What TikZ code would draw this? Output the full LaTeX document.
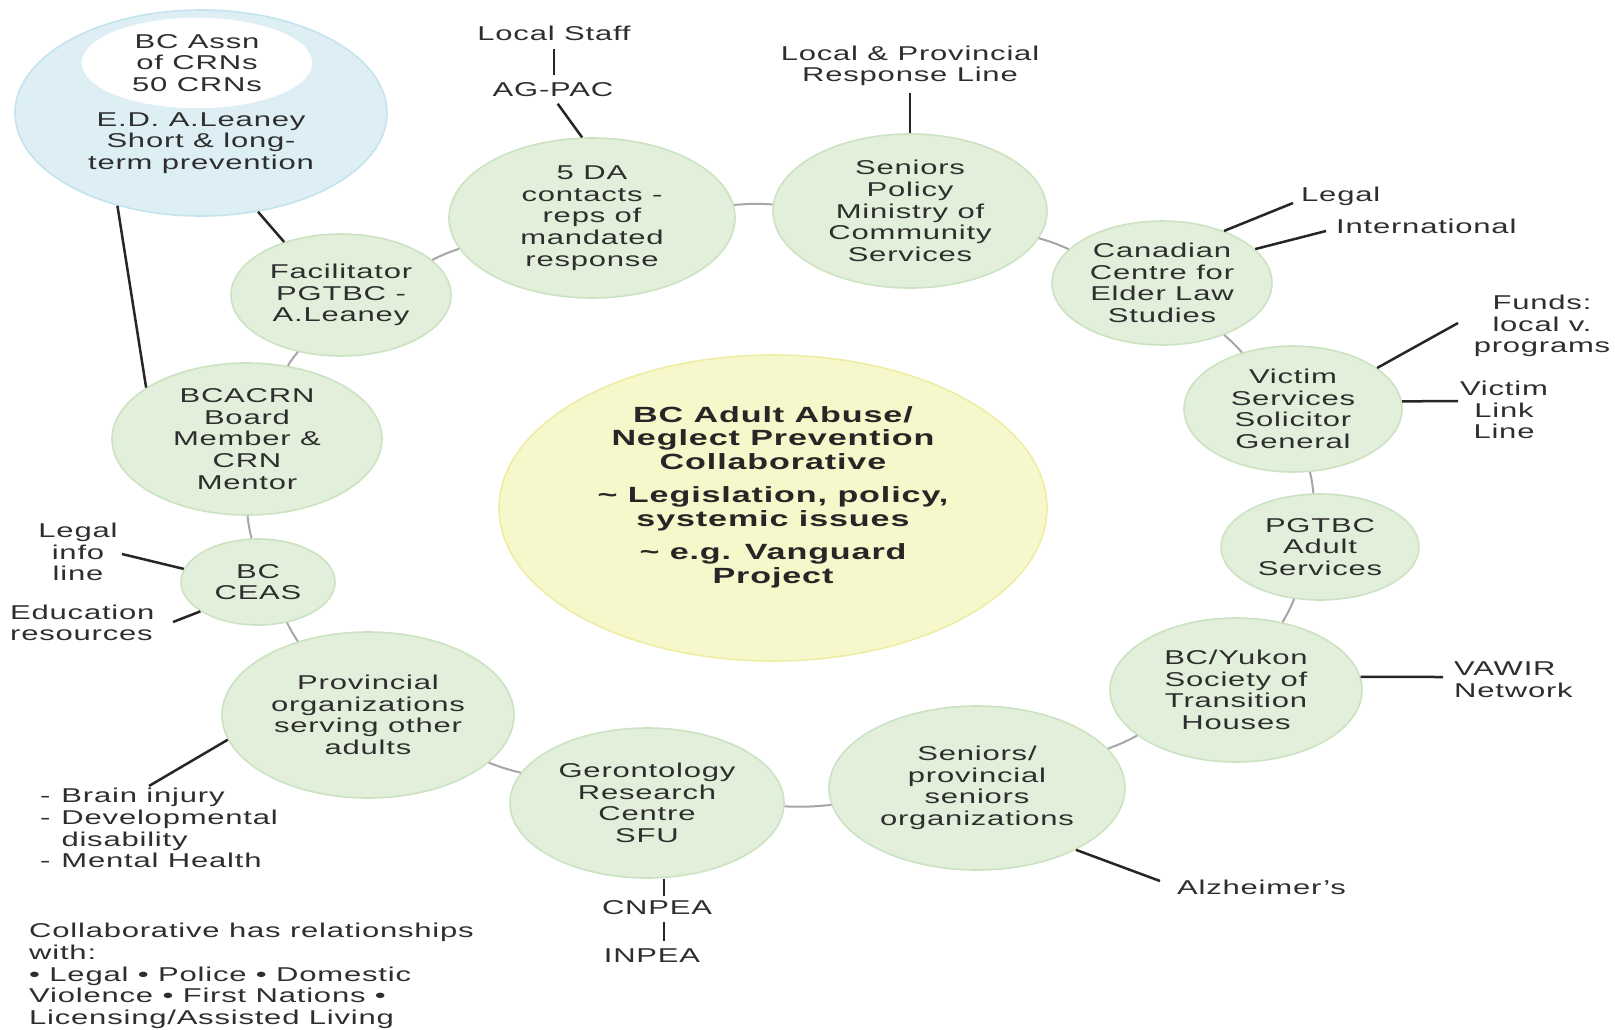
\documentclass[tikz,border=0pt]{standalone}
\usepackage{fontspec}
\setmainfont{Liberation Sans}[FakeStretch=1.55,LetterSpace=4]
\usetikzlibrary{shapes.geometric}
\definecolor{gfill}{HTML}{E2EFDA}
\definecolor{gline}{HTML}{CBE3C2}
\definecolor{bfill}{HTML}{DDEFF5}
\definecolor{bline}{HTML}{C4E3EE}
\definecolor{yfill}{HTML}{F7F7CC}
\definecolor{yline}{HTML}{EDEDA6}
\definecolor{txt}{HTML}{2E2E2E}
\definecolor{dark}{HTML}{262626}
\definecolor{grayline}{HTML}{A6A6A6}
\newcommand\dfont{\fontsize{20}{21.6}\selectfont}
\newcommand\cfont{\fontsize{22}{23.7}\selectfont\bfseries}
\begin{document}
\begin{tikzpicture}[x=1pt,y=1pt,
  bub/.style={ellipse, draw=gline, fill=gfill, line width=1.6pt, inner sep=0pt, align=center, text=txt, font=\dfont},
  lab/.style={inner sep=0pt, align=center, text=txt, font=\dfont},
  blk/.style={draw=dark, line width=2.5pt},
  ring/.style={draw=grayline, line width=2pt, bend left=4}]
\useasboundingbox (0,0) rectangle (1615,-1029);

% blue ellipse
\node[ellipse, draw=bline, fill=bfill, line width=1.6pt, minimum width=372pt, minimum height=206pt] (blue) at (201,-113) {};
\node[ellipse, draw=white, fill=white, inner sep=0pt, minimum width=230pt, minimum height=90pt, align=center, text=txt, font=\dfont] (assn) at (197,-63) {BC Assn\\of CRNs\\50 CRNs};
\node[lab] (ed) at (201,-143) {E.D. A.Leaney\\Short \& long-\\term prevention};

% central
\node[ellipse, draw=yline, fill=yfill, line width=1.6pt, minimum width=548pt, minimum height=306pt] (core) at (773,-508) {};
\node[inner sep=0pt, align=center, text=black!85, font=\cfont] (coretext) at (773,-497)
  {BC Adult Abuse/\\Neglect Prevention\\Collaborative\\[9.3pt]\textasciitilde{} Legislation, policy,\\systemic issues\\[9.3pt]\textasciitilde{} e.g. Vanguard\\Project};

% ring bubbles
\node[bub, minimum width=286pt, minimum height=160pt] (da) at (592,-218) {5 DA\\contacts -\\reps of\\mandated\\response};
\node[bub, minimum width=274pt, minimum height=154pt] (spol) at (910,-211) {Seniors\\Policy\\Ministry of\\Community\\Services};
\node[bub, minimum width=220pt, minimum height=124pt] (ccels) at (1162,-283) {Canadian\\Centre for\\Elder Law\\Studies};
\node[bub, minimum width=218pt, minimum height=126pt] (vssg) at (1293,-409) {Victim\\Services\\Solicitor\\General};
\node[bub, minimum width=198pt, minimum height=106pt] (pgtbc) at (1320,-547) {PGTBC\\Adult\\Services};
\node[bub, minimum width=252pt, minimum height=144pt] (bcy) at (1236,-690) {BC/Yukon\\Society of\\Transition\\Houses};
\node[bub, minimum width=296pt, minimum height=164pt] (spo) at (977,-788) {Seniors/\\provincial\\seniors\\organizations};
\node[bub, minimum width=274pt, minimum height=150pt] (grc) at (647,-803) {Gerontology\\Research\\Centre\\SFU};
\node[bub, minimum width=292pt, minimum height=166pt] (poso) at (368,-715) {Provincial\\organizations\\serving other\\adults};
\node[bub, minimum width=154pt, minimum height=86pt] (ceas) at (258,-582) {BC\\CEAS};
\node[bub, minimum width=270pt, minimum height=152pt] (bcacrn) at (247,-439) {BCACRN\\Board\\Member \&\\CRN\\Mentor};
\node[bub, minimum width=220pt, minimum height=122pt] (fac) at (341,-295) {Facilitator\\PGTBC -\\A.Leaney};

% ring connectors
\draw[ring] (da) to (spol);
\draw[ring] (spol) to (ccels);
\draw[ring] (ccels) to (vssg);
\draw[ring] (vssg) to (pgtbc);
\draw[ring] (pgtbc) to (bcy);
\draw[ring] (bcy) to (spo);
\draw[ring] (spo) to (grc);
\draw[ring] (grc) to (poso);
\draw[ring] (poso) to (ceas);
\draw[ring] (ceas) to (bcacrn);
\draw[ring] (bcacrn) to (fac);
\draw[ring] (fac) to (da);

% outer labels
\node[lab] (localstaff) at (554,-33) {Local Staff};
\node[lab] (agpac) at (553,-90) {AG-PAC};
\node[lab] (lprl) at (910,-66) {Local \& Provincial\\Response Line};
\node[lab,anchor=west] (legal) at (1301,-196) {Legal};
\node[lab,anchor=west] (intl) at (1336,-226) {International};
\node[lab] (funds) at (1542,-326) {Funds:\\local v.\\programs};
\node[lab] (vll) at (1504,-410) {Victim\\Link\\Line};
\node[lab,anchor=west,align=left] (vawir) at (1454,-680) {VAWIR\\Network};
\node[lab,anchor=west] (alz) at (1177,-887) {Alzheimer’s};
\node[lab] (cnpea) at (657,-908) {CNPEA};
\node[lab] (inpea) at (652,-956) {INPEA};
\node[lab] (lil) at (78,-552) {Legal\\info\\line};
\node[lab,anchor=west,align=left] (edu) at (10,-623) {Education\\resources};
\node[lab,anchor=west] (list) at (40,-831) {\begin{tabular}{@{}l@{\hspace{11pt}}l@{}}-&Brain injury\\-&Developmental\\&disability\\-&Mental Health\end{tabular}};
\node[lab,anchor=west,align=left] (rel) at (29,-976) {Collaborative has relationships\\with:\\• Legal • Police • Domestic\\Violence • First Nations •\\Licensing/Assisted Living};

% free ends
\coordinate (legalend) at (1293,-203);
\coordinate (intlend) at (1326,-231);
\coordinate (fundsend) at (1458,-323);
\coordinate (vllend) at (1458,-401);
\coordinate (vawirend) at (1443,-677);
\coordinate (alzend) at (1160,-881);
\coordinate (lilend) at (122,-554);
\coordinate (eduend) at (173,-622);
\coordinate (listend) at (149,-786);
\coordinate (cnx) at (664,0);

% black connectors
\draw[blk] (blue.228) -- (bcacrn.153);
\draw[blk] (blue.300) -- (fac.137);
\draw[blk, shorten <=8pt, shorten >=8pt] (localstaff.south) -- (localstaff.south |- agpac.north);
\draw[blk, shorten <=8pt] (agpac.south) -- (da.97);
\draw[blk, shorten <=7pt] (lprl.south) -- (spol.north);
\draw[blk] (ccels.40) -- (legalend);
\draw[blk] (ccels.20) -- (intlend);
\draw[blk] (vssg.26) -- (fundsend);
\draw[blk] (vssg.4) -- (vllend);
\draw[blk] (bcy.6) -- (vawirend);
\draw[blk] (spo.328) -- (alzend);
\draw[blk, shorten >=5pt] (grc.south -| cnx) -- (cnpea.north -| cnx);
\draw[blk, shorten <=7pt, shorten >=8pt] (cnpea.south -| cnx) -- (inpea.north -| cnx);
\draw[blk] (ceas.170) -- (lilend);
\draw[blk] (ceas.207) -- (eduend);
\draw[blk] (poso.190) -- (listend);
\end{tikzpicture}
\end{document}
